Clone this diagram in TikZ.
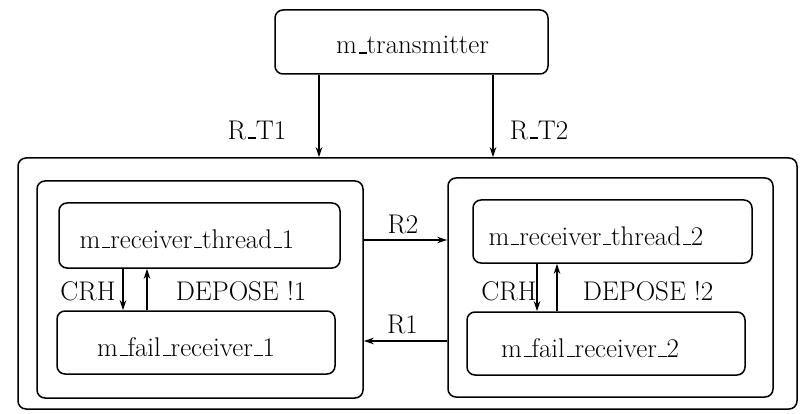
\documentclass[tikz,border=0pt]{standalone}
\usetikzlibrary{arrows.meta}
\newcommand\us{\leavevmode\kern.06em\vbox{\hrule width.3em height .06em}}
\begin{document}
\begin{tikzpicture}[x=1pt,y=-1pt,
  box/.style={draw,line width=1.5pt,rounded corners=8pt,inner sep=0pt},
  txt/.style={inner sep=0pt,font=\fontsize{27}{32}\selectfont},
  arr/.style={line width=1.2pt,-{Stealth[length=10pt,width=6.5pt]}}]
\useasboundingbox (0,0) rectangle (800,414);
% boxes
\node[box,minimum width=273pt,minimum height=64pt] (trans) at (411.5,42) {};
\node[box,minimum width=779pt,minimum height=251pt] (outer) at (407.5,283.5) {};
\node[box,minimum width=326pt,minimum height=217pt] (box1) at (200,289.5) {};
\node[box,minimum width=281pt,minimum height=65pt] (rt1) at (199.5,235.5) {};
\node[box,minimum width=278pt,minimum height=63pt] (fr1) at (196,342.5) {};
\node[box,minimum width=325pt,minimum height=219pt] (box2) at (610.5,287.5) {};
\node[box,minimum width=279pt,minimum height=63pt] (rt2) at (612.5,231.5) {};
\node[box,minimum width=278pt,minimum height=63pt] (fr2) at (606,343.5) {};
% box texts
\node[txt] (ttrans) at (412.5,45) {m\us transmitter};
\node[txt] (trt1) at (187,239) {m\us receiver\us thread\us 1};
\node[txt] (tfr1) at (186,347) {m\us fail\us receiver\us 1};
\node[txt] (trt2) at (596,236) {m\us receiver\us thread\us 2};
\node[txt] (tfr2) at (590,348) {m\us fail\us receiver\us 2};
% helper coordinates
\coordinate (a1) at (319,0);
\coordinate (a2) at (493,0);
\coordinate (c1) at (123,0);
\coordinate (d1) at (147,0);
\coordinate (c2) at (537,0);
\coordinate (d2) at (557,0);
\coordinate (yr2) at (0,240);
\coordinate (yr1) at (0,341);
% connectors
\draw[arr] (trans.south -| a1) -- (outer.north -| a1);
\draw[arr] (trans.south -| a2) -- (outer.north -| a2);
\draw[arr] (rt1.south -| c1) -- (fr1.north -| c1);
\draw[arr] (fr1.north -| d1) -- (rt1.south -| d1);
\draw[arr] (rt2.south -| c2) -- (fr2.north -| c2);
\draw[arr] (fr2.north -| d2) -- (rt2.south -| d2);
\draw[arr] (box1.east |- yr2) -- (box2.west |- yr2);
\draw[arr] (box2.west |- yr1) -- (box1.east |- yr1);
% labels
\node[txt] (lrt1) at (257,130) {R\us T1};
\node[txt] (lrt2) at (539,130) {R\us T2};
\node[txt] (lr2) at (403,224) {R2};
\node[txt] (lr1) at (402.5,324) {R1};
\node[txt] (lcrh1) at (88,291) {CRH};
\node[txt] (ldep1) at (241,291) {DEPOSE !1};
\node[txt] (lcrh2) at (509,291) {CRH};
\node[txt] (ldep2) at (648,291) {DEPOSE !2};
\end{tikzpicture}
\end{document}
